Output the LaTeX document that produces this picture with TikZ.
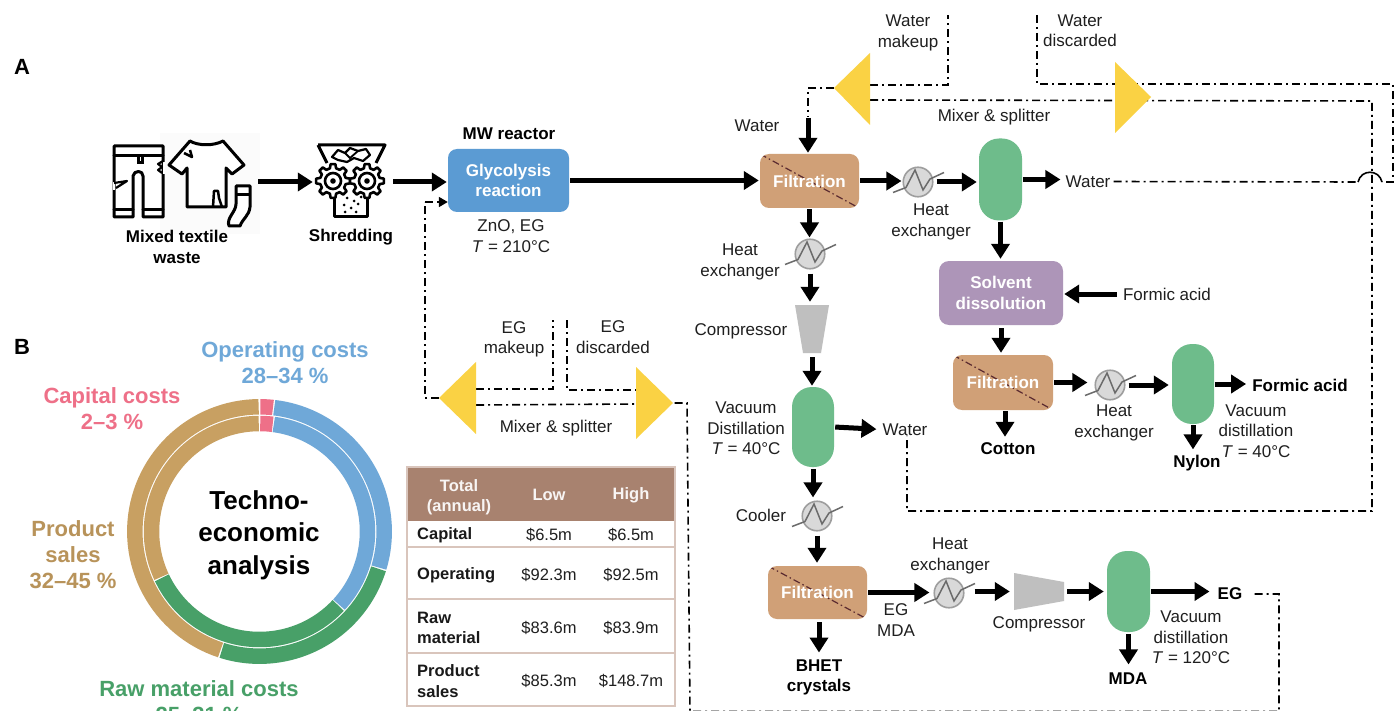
\documentclass[tikz,border=0pt]{standalone}
\usepackage{fontspec}
\setmainfont{Liberation Sans}
\usetikzlibrary{arrows.meta}
\definecolor{glyblue}{HTML}{5B9BD3}
\definecolor{filtbrown}{HTML}{D0A077}
\definecolor{colgreen}{HTML}{6EBC8B}
\definecolor{solvpurple}{HTML}{AD95B8}
\definecolor{triyellow}{HTML}{FAD244}
\definecolor{hxgrey}{HTML}{D9D9D9}
\definecolor{ringblue}{HTML}{6FA8D8}
\definecolor{ringred}{HTML}{EE7088}
\definecolor{ringgreen}{HTML}{48A068}
\definecolor{ringtan}{HTML}{C8A062}
\definecolor{thead}{HTML}{A8826F}
\definecolor{tline}{HTML}{D9C5BC}
\definecolor{diagbrown}{HTML}{5A2A30}
\tikzset{
  lbl/.style={inner sep=0pt,align=center,text=black!88,font=\fontsize{17}{20.3}\selectfont},
  blbl/.style={inner sep=0pt,align=center,text=black,font=\fontsize{17}{20.3}\selectfont\bfseries},
  panel/.style={inner sep=0pt,text=black,font=\fontsize{22}{22}\selectfont\bfseries},
  boxbase/.style={inner sep=0pt,align=center,text=white,rounded corners=9pt,font=\fontsize{17}{20.3}\selectfont\bfseries},
  filtbox/.style={boxbase,fill=filtbrown,minimum width=99pt,minimum height=54pt,
    path picture={\draw[line width=1.2pt,diagbrown,dash pattern=on 7pt off 3pt on 1.5pt off 3pt]
      (path picture bounding box.north west) -- (path picture bounding box.south east);}},
  colbox/.style={inner sep=0pt,fill=colgreen,rounded corners=20pt,minimum width=43pt,minimum height=81pt},
  hxbox/.style={circle,inner sep=0pt,minimum size=29.5pt,draw=black!38,fill=hxgrey,line width=1.6pt},
  hxline/.style={draw=black!58,line width=1.5pt,line join=miter},
  fat/.style={line width=5pt,-{Triangle[length=15pt,width=18pt]},shorten <=1pt,shorten >=1pt},
  dd/.style={line width=1.6pt,black,dash pattern=on 8pt off 4pt on 2pt off 4pt},
  tri/.style={fill=triyellow},
  comp/.style={fill=black!25},
  icon/.style={line width=3pt,black,line join=round,line cap=round,fill=white},
  icongap/.style={inner sep=0pt},
  ring/.style={line width=15.5pt},
  rlabel/.style={inner sep=0pt,align=center,font=\fontsize{22}{26}\selectfont\bfseries},
  tcell/.style={inner sep=0pt,align=center,text=black!88,font=\fontsize{16.5}{20.5}\selectfont},
  trow/.style={inner sep=0pt,align=left,anchor=west,text=black!90,font=\fontsize{16.5}{20.5}\selectfont\bfseries},
  thd/.style={inner sep=0pt,align=center,text=white!92!thead,font=\fontsize{16.5}{20.5}\selectfont\bfseries}
}
\newcommand{\hxnode}[2]{%
  \node[hxbox] (#1) at (#2) {};
  \draw[hxline,shift={(#2)}] (-25,10.5) -- (-12,5.5) -- (-3,-12) -- (5,8) -- (12,-3) -- (26,-9.5);
}
\newcommand{\ringarc}[4]{% colour, radius, from, to (clockwise from top)
  \draw[ring,#1,shift={(259.5,531.5)}] plot[domain=#3:#4,samples=60] ({#2*sin(\x)},{-#2*cos(\x)});
}
\newcommand{\gearshape}[2]{%
  \draw[line width=2.6pt,black,line join=round,fill=white,shift={(#1,#2)}] (-8:17)
    \foreach \a in {0,45,...,315} { -- (\a+8:17) -- (\a+14:13) -- (\a+31:13) -- (\a+37:17) } -- cycle;
  \draw[line width=2.6pt,black,shift={(#1,#2)}] (0,0) circle[radius=8];
  \fill[black,shift={(#1,#2)}] (0,0) circle[radius=2.8];
}
\begin{document}
\begin{tikzpicture}[x=1pt,y=-1pt]
\useasboundingbox (0,0) rectangle (1396,711);
\fill[white] (0,0) rectangle (1396,711);

% panel letters
\node[panel] (panelA) at (22,67) {A};
\node[panel] (panelB) at (22,347) {B};

% ---- icons
\fill[black!1.5] (160,133) rectangle (260,234);
\node[icongap,minimum width=136pt,minimum height=88pt] (wasteicon) at (182,182) {};
\node[icongap,minimum width=67pt,minimum height=74pt] (shredicon) at (351.5,182) {};
% trousers
\draw[icon] (114,146) -- (163,146) -- (163,217) -- (143,217) -- (143,176)
  .. controls (143,170) and (134,170) .. (133,176) -- (133,217) -- (114,217) -- cycle;
\draw[line width=3pt,line cap=round] (114,156) -- (163,156) (114,210) -- (133,210) (143,210) -- (163,210)
  (138,156) -- (138,163) -- (142,163) -- (142,156);
\draw[line width=2.5pt,white] (164,162) -- (164,174) (114,182) -- (114,190);
\draw[line width=2.2pt,line join=round] (163,161) -- (158,164) -- (162,167) -- (158,170) -- (162,173)
  (114,183) -- (127,181) -- (116,188);
% shirt
\draw[icon] (190,141) .. controls (198,146) and (214,146) .. (223,141) -- (244,165) -- (232,174) -- (226,168)
  -- (226,207) -- (187,207) -- (187,168) -- (182,174) -- (169,165) -- cycle;
\draw[line width=2.5pt,line join=round] (213,207) -- (214,191) -- (218,191) -- (219,198) -- (222,207)
  (184,153) -- (192,157) -- (190,150);
% sock
\draw[icon] (236,186) -- (250,186) -- (250,207) .. controls (249,216) and (243,218) .. (240,226)
  -- (229,226) .. controls (226,218) and (236,212) .. (236,204) -- cycle;
\draw[line width=3pt] (236,195) -- (250,195);
% shredder
\draw[line width=3pt,line join=round,fill=white] (334,190) -- (334,217) -- (367,217) -- (367,190);
\draw[line width=3pt,line join=round] (318,145) -- (385,145) -- (376,163) (318,145) -- (327,163);
\draw[line width=2.2pt,line join=round,fill=white] (332,157) -- (338,150) -- (345,153) -- (350,148) -- (358,151)
  -- (366,149) -- (370,155) -- (363,161) -- (354,158) -- (347,162) -- (338,160) -- cycle;
\draw[line width=1.8pt] (345,153) -- (350,158) -- (358,151);
\gearshape{333}{181}
\gearshape{367}{181}
\foreach \p in {(347,198),(354,201),(344,205),(351,208),(358,204),(345,212),(356,212),(361,197)}
  \fill[black] \p circle[radius=1.5];

% ---- top flow texts
\node[blbl] (wastelbl) at (177,247) {Mixed textile\\waste};
\node[blbl] (shredlbl) at (351,237.5) {Shredding};
\node[blbl] (mwlbl) at (509,134) {MW reactor};
\node[boxbase,fill=glyblue,minimum width=121pt,minimum height=63pt] (gly) at (508.5,180.5) {Glycolysis\\reaction};
\node[lbl] (znolbl) at (511,236) {ZnO, EG\\\textit{T} = 210°C};

% ---- process boxes
\node[filtbox] (filta) at (809.5,181) {Filtration};
\node[colbox,minimum width=43pt,minimum height=82pt] (colb) at (1000.5,179.5) {};
\node[boxbase,fill=solvpurple,rounded corners=10pt,minimum width=124pt,minimum height=64pt] (solv) at (1001,293) {Solvent\\dissolution};
\node[filtbox,minimum width=100pt,minimum height=55pt] (filtb) at (1003,382.5) {Filtration};
\node[colbox,minimum width=42pt,minimum height=80pt] (colc) at (1193,384) {};
\node[colbox,minimum width=42pt,minimum height=80pt] (cola) at (813,427) {};
\node[filtbox,minimum height=53pt] (filtc) at (817.5,592.5) {Filtration};
\node[colbox] (cold) at (1128.5,591.5) {};

\hxnode{hxa}{810,254}
\hxnode{hxb}{918,182}
\hxnode{hxc}{1110,385}
\hxnode{hxd}{817,516}
\hxnode{hxe}{949,593}

% compressors
\fill[comp] (795,305) -- (829,305) -- (821,353) -- (803,353) -- cycle;
\node[inner sep=0pt,minimum width=34pt,minimum height=48pt] (compa) at (812,329) {};
\fill[comp] (1014,573) -- (1064,582) -- (1064,601) -- (1014,610) -- cycle;
\node[inner sep=0pt,minimum width=50pt,minimum height=37pt] (compb) at (1039,591.5) {};

% ---- labels
\node[lbl] (watera) at (757,125.5) {Water};
\node[lbl] (hxalbl) at (740,262) {Heat\\exchanger};
\node[lbl] (compalbl) at (741,331) {Compressor};
\node[lbl] (colalbl) at (746,428.5) {Vacuum\\Distillation\\\textit{T} = 40°C};
\node[lbl] (waterc) at (905,429.5) {Water};
\node[lbl] (coolerlbl) at (761,515.5) {Cooler};
\node[blbl] (bhet) at (819,677.5) {BHET\\crystals};
\node[lbl] (egmda) at (896,620) {EG\\MDA};
\node[lbl] (hxelbl) at (950,556) {Heat\\exchanger};
\node[lbl] (compblbl) at (1039,624.5) {Compressor};
\node[blbl] (eg) at (1230,594) {EG};
\node[blbl] (mda) at (1128,678.5) {MDA};
\node[lbl] (coldlbl) at (1191,637.5) {Vacuum\\distillation\\\textit{T} = 120°C};
\node[lbl] (hxblbl) at (931,222) {Heat\\exchanger};
\node[lbl] (waterb) at (1088,181.5) {Water};
\node[lbl] (formicin) at (1167,294) {Formic acid};
\node[blbl] (cotton) at (1008,449) {Cotton};
\node[lbl] (hxclbl) at (1114,423) {Heat\\exchanger};
\node[blbl] (formicout) at (1300,385.5) {Formic acid};
\node[blbl] (nylon) at (1197,463.5) {Nylon};
\node[lbl] (colclbl) at (1256,431) {Vacuum\\distillation\\\textit{T} = 40°C};
\node[lbl] (wmlbl) at (908,33) {Water\\makeup};
\node[lbl] (wdlbl) at (1080,31) {Water\\discarded};
\node[lbl] (mswlbl) at (994,117.5) {Mixer \& splitter};
\node[lbl] (emlbl) at (514,339) {EG\\makeup};
\node[lbl] (edlbl) at (613,337) {EG\\discarded};
\node[lbl] (mselbl) at (556,428.5) {Mixer \& splitter};

% ---- solid arrows
\draw[fat,shorten <=8pt,shorten >=5pt] (wasteicon.east) -- (shredicon.west);
\draw[fat,shorten <=8pt] (shredicon.east) -- (shredicon.east -| gly.west);
\draw[fat] (gly.east) -- (gly.east -| filta.west);
\coordinate (wfeed) at (808,117);
\draw[fat] (wfeed) -- (wfeed |- filta.north);
\draw[fat,shorten >=1pt] (filta.east) -- (filta.east -| hxb.west);
\draw[fat,shorten <=3pt,shorten >=2pt] (hxb.east) -- (hxb.east -| colb.west);
\draw[fat,shorten >=5pt] (colb.east) -- (colb.east -| waterb.west);
\draw[fat,shorten >=2pt] (colb.south) -- (colb.south |- solv.north);
\draw[fat,shorten <=6pt] (formicin.west) -- (formicin.west -| solv.east);
\draw[fat,shorten <=3pt,shorten >=2pt] (solv.south) -- (solv.south |- filtb.north);
\draw[fat,shorten >=6pt] (filtb.south) ++(2pt,0) -- ([xshift=2pt]filtb.south |- cotton.north);
\draw[fat,shorten >=7pt] (filtb.east) -- (filtb.east -| hxc.west);
\draw[fat,shorten <=3pt,shorten >=3pt] (hxc.east) -- (hxc.east -| colc.west);
\draw[fat,shorten >=6pt] (colc.east) -- (colc.east -| formicout.west);
\draw[fat,shorten >=6pt] (colc.south) -- (colc.south |- nylon.north);
\draw[fat] (filta.south) -- (filta.south |- hxa.north);
\draw[fat,shorten <=4pt,shorten >=3pt] (hxa.south) -- (hxa.south |- compa.north);
\draw[fat,shorten <=4pt,shorten >=1pt] (compa.south) -- (compa.south |- cola.north);
\draw[fat,shorten >=6pt] (cola.east) -- (waterc.west);
\draw[fat,shorten <=2pt,shorten >=3pt] (cola.south) -- (cola.south |- hxd.north);
\draw[fat,shorten <=4pt,shorten >=3pt] (hxd.south) -- (hxd.south |- filtc.north);
\draw[fat,shorten <=3pt,shorten >=7pt] (filtc.south -| bhet.north) -- (bhet.north);
\draw[fat,shorten >=4pt] (filtc.east) -- (filtc.east -| hxe.west);
\draw[fat,shorten <=10pt,shorten >=4pt] (compb.west -| hxe.east) -- (compb.west);
\draw[fat,shorten <=3pt,shorten >=3pt] (compb.east) -- (cold.west);
\draw[fat,shorten >=8pt] (cold.east) -- (cold.east -| eg.west);
\draw[fat,shorten <=2pt,shorten >=8pt] (cold.south) -- (cold.south |- mda.north);

% ---- recycle lines
\coordinate (wmport) at (870,85);
\coordinate (wmtop) at (948,15);
\coordinate (wtip) at (834,88);
\coordinate (wdtop) at (1037,15);
\coordinate (wdrb) at (1393,84);
\coordinate (wdend) at (1393,182);
\coordinate (midl) at (870,100);
\coordinate (midr) at (1372,101);
\coordinate (hopl) at (1358,182);
\coordinate (hopr) at (1382,182);
\coordinate (wreturn) at (1372,511);
\coordinate (wturn) at (907,511);
\coordinate (emport) at (476,389);
\coordinate (emtop) at (553,320);
\coordinate (edtop) at (567,320);
\coordinate (edport) at (636,390);
\coordinate (gmidl) at (476,405);
\coordinate (gmidr) at (636,404);
\coordinate (gtipl) at (439,398);
\coordinate (gleft) at (425,202);
\coordinate (gtipr) at (673,403);
\coordinate (gdrop) at (687,403);
\coordinate (gbot) at (690,711.5);
\coordinate (egright) at (1279,711.5);

\draw[dd] (wmport) -| (wmtop);
\draw[dd] (wtip) -| (wfeed);
\draw[dd] (wdtop) |- (wdrb) -- (wdend) -- (hopr);
\draw[dd] (midl) -- (midr) -- (wreturn) -- (wturn) -- (waterc.south -| wturn);
\draw[dd,shorten <=3pt] (waterb.east) -- (hopl);
\draw[line width=1.6pt] (hopl) .. controls (1361,169) and (1379,169) .. (hopr);
\draw[dd] (emport) -| (emtop);
\draw[dd] (edtop) |- (edport);
\draw[dd] (gmidl) -- (gmidr);
\draw[dd] (gtipl) -| (gleft);
\draw[dd,-{Triangle[length=9pt,width=10pt]}] (gleft) -- (gleft -| gly.west);
\draw[dd,shorten <=12pt] (eg.east) -| (egright) -- (gbot) -- (gdrop) -- (gtipr);

% ---- mixer / splitter triangles
\fill[tri] (870,53) -- (834,88) -- (870,125) -- cycle;
\fill[tri] (1115,62) -- (1151,97) -- (1115,133) -- cycle;
\fill[tri] (476,362) -- (439,398) -- (476,434) -- cycle;
\fill[tri] (636,367) -- (673,403) -- (636,439) -- cycle;

% ---- donut
\ringarc{ringred}{124.7}{0.4}{6.2}
\ringarc{ringblue}{124.7}{6.8}{106.8}
\ringarc{ringgreen}{124.7}{107.4}{197.6}
\ringarc{ringtan}{124.7}{198.2}{359.6}
\ringarc{ringred}{108}{0.4}{7}
\ringarc{ringblue}{108}{7.6}{132.6}
\ringarc{ringgreen}{108}{133.2}{244.6}
\ringarc{ringtan}{108}{245.2}{359.6}
\node[inner sep=0pt,align=center,text=black,font=\fontsize{26}{32.5}\selectfont\bfseries] (tea) at (259,535) {Techno-\\economic\\analysis};
\node[rlabel,text=ringblue] (oplbl) at (285,363) {Operating costs\\28–34 \%};
\node[rlabel,text=ringred] (caplbl) at (112,409) {Capital costs\\2–3 \%};
\node[rlabel,text=ringtan!92!black] (prodlbl) at (73,554.5) {Product\\sales\\32–45 \%};
\node[rlabel,text=ringgreen] (rawlbl) at (199,702) {Raw material costs\\25–31 \%};

% ---- table
\fill[thead] (407,467) rectangle (675,521);
\draw[tline,line width=1.3pt] (407,467) rectangle (675,706);
\draw[tline,line width=1.3pt] (407,547) -- (675,547) (407,599) -- (675,599) (407,653) -- (675,653);
\node[thd] (thtotal) at (459,497) {Total\\(annual)};
\node[thd] (thlow) at (549,495) {Low};
\node[thd] (thhigh) at (631,495) {High};
\node[trow] (r1) at (417,535) {Capital};
\node[tcell] (r1l) at (549,535) {\$6.5m};
\node[tcell] (r1h) at (631,535) {\$6.5m};
\node[trow] (r2) at (417,575) {Operating};
\node[tcell] (r2l) at (549,575) {\$92.3m};
\node[tcell] (r2h) at (631,575) {\$92.5m};
\node[trow] (r3) at (417,628) {Raw\\material};
\node[tcell] (r3l) at (549,628) {\$83.6m};
\node[tcell] (r3h) at (631,628) {\$83.9m};
\node[trow] (r4) at (417,681) {Product\\sales};
\node[tcell] (r4l) at (549,681) {\$85.3m};
\node[tcell] (r4h) at (631,681) {\$148.7m};
\end{tikzpicture}
\end{document}
